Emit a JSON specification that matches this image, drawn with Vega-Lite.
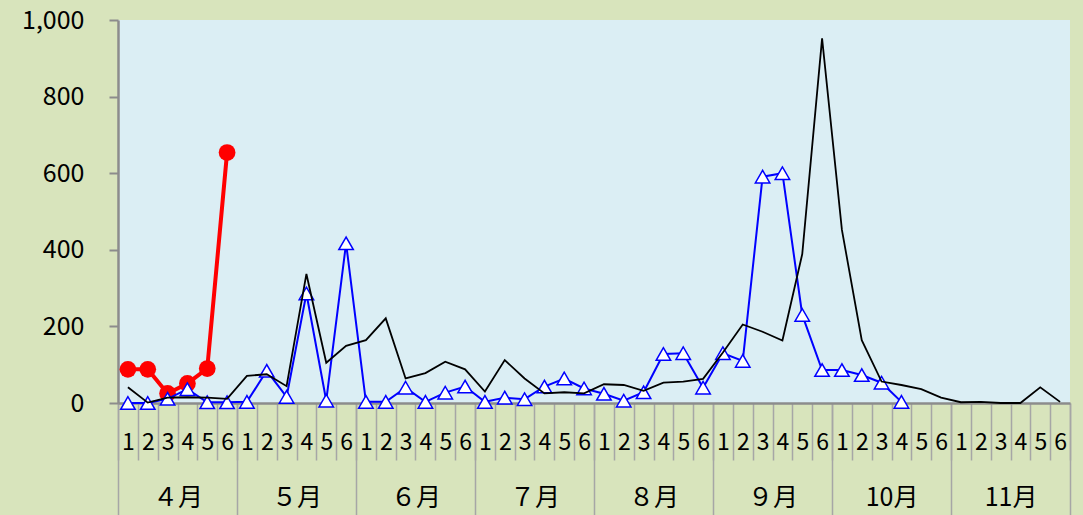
{
  "$schema": "https://vega.github.io/schema/vega-lite/v6.json",
  "width": 952,
  "height": 383,
  "autosize": {"type": "none"},
  "padding": {"left": 118, "top": 20, "right": 13, "bottom": 112},
  "background": "#d8e4bc",
  "config": {"view": {"fill": "#dbeef4", "stroke": null}, "font": "Noto Sans CJK JP"},
  "data": {"values": [
    {"idx": 1, "m": "４月", "black": 41, "blue": 0, "red": 88},
    {"idx": 2, "m": "４月", "black": 1, "blue": 0, "red": 88},
    {"idx": 3, "m": "４月", "black": 14, "blue": 11, "red": 25},
    {"idx": 4, "m": "４月", "black": 15, "blue": 36, "red": 51},
    {"idx": 5, "m": "４月", "black": 14, "blue": 2, "red": 90},
    {"idx": 6, "m": "４月", "black": 11, "blue": 2, "red": 654},
    {"idx": 7, "m": "５月", "black": 71, "blue": 3},
    {"idx": 8, "m": "５月", "black": 75, "blue": 84},
    {"idx": 9, "m": "５月", "black": 44, "blue": 16},
    {"idx": 10, "m": "５月", "black": 337, "blue": 286},
    {"idx": 11, "m": "５月", "black": 105, "blue": 6},
    {"idx": 12, "m": "５月", "black": 149, "blue": 417},
    {"idx": 13, "m": "６月", "black": 164, "blue": 3},
    {"idx": 14, "m": "６月", "black": 221, "blue": 3},
    {"idx": 15, "m": "６月", "black": 64, "blue": 40},
    {"idx": 16, "m": "６月", "black": 78, "blue": 3},
    {"idx": 17, "m": "６月", "black": 108, "blue": 27},
    {"idx": 18, "m": "６月", "black": 88, "blue": 43},
    {"idx": 19, "m": "７月", "black": 30, "blue": 3},
    {"idx": 20, "m": "７月", "black": 112, "blue": 14},
    {"idx": 21, "m": "７月", "black": 64, "blue": 10},
    {"idx": 22, "m": "７月", "black": 25, "blue": 43},
    {"idx": 23, "m": "７月", "black": 28, "blue": 64},
    {"idx": 24, "m": "７月", "black": 25, "blue": 38},
    {"idx": 25, "m": "８月", "black": 49, "blue": 24},
    {"idx": 26, "m": "８月", "black": 47, "blue": 6},
    {"idx": 27, "m": "８月", "black": 32, "blue": 28},
    {"idx": 28, "m": "８月", "black": 53, "blue": 128},
    {"idx": 29, "m": "８月", "black": 56, "blue": 130},
    {"idx": 30, "m": "８月", "black": 63, "blue": 40},
    {"idx": 31, "m": "９月", "black": 132, "blue": 130},
    {"idx": 32, "m": "９月", "black": 205, "blue": 110},
    {"idx": 33, "m": "９月", "black": 186, "blue": 591},
    {"idx": 34, "m": "９月", "black": 163, "blue": 600},
    {"idx": 35, "m": "９月", "black": 389, "blue": 230},
    {"idx": 36, "m": "９月", "black": 952, "blue": 86},
    {"idx": 37, "m": "10月", "black": 452, "blue": 86},
    {"idx": 38, "m": "10月", "black": 164, "blue": 73},
    {"idx": 39, "m": "10月", "black": 56, "blue": 53},
    {"idx": 40, "m": "10月", "black": 47, "blue": 3},
    {"idx": 41, "m": "10月", "black": 36},
    {"idx": 42, "m": "10月", "black": 14},
    {"idx": 43, "m": "11月", "black": 2},
    {"idx": 44, "m": "11月", "black": 3},
    {"idx": 45, "m": "11月", "black": 0},
    {"idx": 46, "m": "11月", "black": 0},
    {"idx": 47, "m": "11月", "black": 41},
    {"idx": 48, "m": "11月", "black": 3}
  ]},
  "layer": [
    {
      "mark": {"type": "rule", "strokeOpacity": 0},
      "encoding": {
        "x": {
          "field": "m", "type": "ordinal",
          "sort": ["４月", "５月", "６月", "７月", "８月", "９月", "10月", "11月"],
          "scale": {"type": "band", "paddingInner": 0, "paddingOuter": 0},
          "axis": {
            "orient": "bottom", "title": null, "tickBand": "extent", "tickSize": 112,
            "tickColor": "#a6a6a6", "tickWidth": 1.5, "domain": false, "labelAngle": 0,
            "labelFontSize": 25, "labelColor": "#000000", "labelPadding": -18,
            "labelBaseline": "middle", "labelOverlap": false, "labelBound": false, "labelFlush": false
          }
        }
      }
    },
    {
      "encoding": {
        "x": {
          "field": "idx", "type": "ordinal", "bandPosition": 0.5,
          "scale": {"type": "band", "paddingInner": 0, "paddingOuter": 0},
          "axis": {
            "orient": "bottom", "title": null,
            "labelExpr": "isValid(datum.value) && datum.value > 0 ? ((datum.value-1)%6)+1 : ''",
            "tickBand": "extent", "tickSize": 57, "tickColor": "#a6a6a6", "tickWidth": 1.5,
            "domainColor": "#8c8c8c", "domainWidth": 2.5, "labelAngle": 0, "labelFontSize": 23,
            "labelColor": "#000000", "labelPadding": -18, "labelBaseline": "middle",
            "labelOverlap": false, "labelBound": false, "labelFlush": false
          }
        },
        "y": {
          "type": "quantitative",
          "scale": {"domain": [0, 1000], "nice": false},
          "axis": {
            "title": null, "values": [0, 200, 400, 600, 800, 1000], "format": ",d",
            "tickSize": 9, "tickColor": "#8c8c8c", "tickWidth": 2, "domainColor": "#8c8c8c",
            "domainWidth": 2.5, "grid": false, "labelFontSize": 25, "labelPadding": 25,
            "labelColor": "#000000"
          }
        }
      },
      "layer": [
        {
          "mark": {"type": "line", "stroke": "#ff0000", "strokeWidth": 4,
            "point": {"shape": "circle", "filled": true, "fill": "#ff0000", "size": 280}},
          "encoding": {"y": {"field": "red", "type": "quantitative"}}
        },
        {
          "mark": {"type": "line", "stroke": "#0000ff", "strokeWidth": 2,
            "point": {"shape": "triangle-up", "filled": true, "fill": "#ffffff", "stroke": "#0000ff", "strokeWidth": 1.5, "size": 210}},
          "encoding": {"y": {"field": "blue", "type": "quantitative"}}
        },
        {
          "mark": {"type": "line", "stroke": "#000000", "strokeWidth": 1.8},
          "encoding": {"y": {"field": "black", "type": "quantitative"}}
        }
      ]
    }
  ],
  "resolve": {"scale": {"x": "independent"}}
}
